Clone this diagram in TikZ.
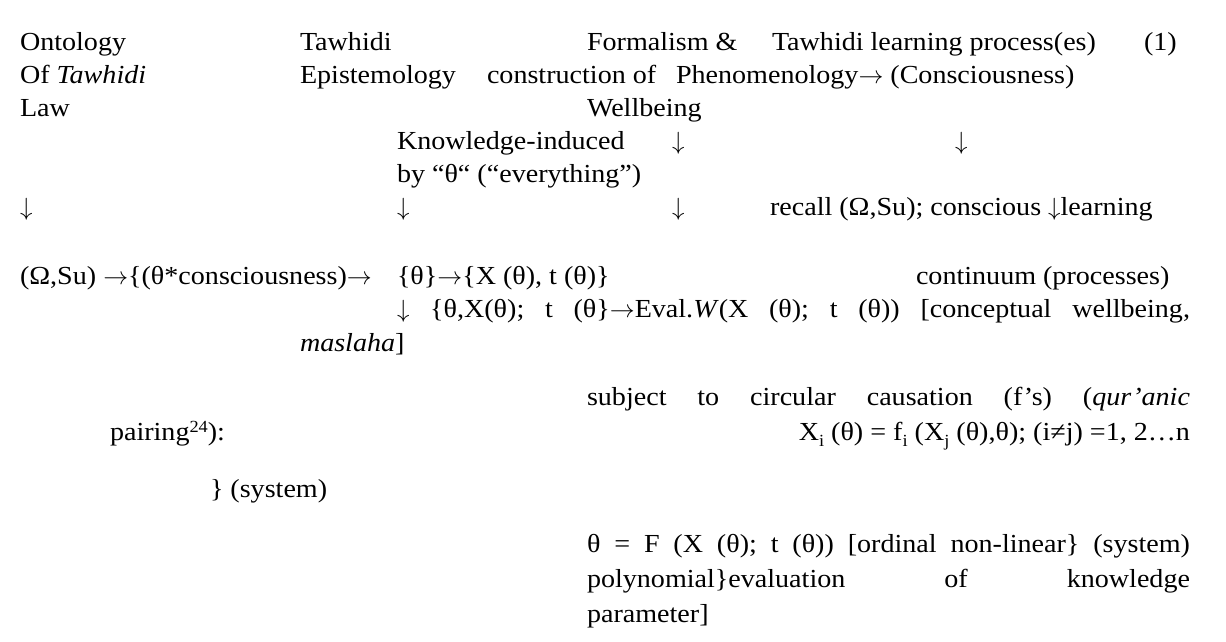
\documentclass[tikz,border=0pt]{standalone}
\usepackage{fontspec}
\setmainfont{Liberation Serif}[FakeStretch=1.08]
\frenchspacing
\tikzset{txt/.style={anchor=base west, inner sep=0pt, outer sep=0pt, font=\fontsize{26}{31}\selectfont}}
\newcommand\T[4]{\node[txt] (#1) at (#2pt,-#3pt) {#4};}
\newcommand\J[2]{\hbox to #1pt{\spaceskip=.25em plus 1fil\relax #2}}
\newcommand\sub[1]{\raisebox{-.55ex}{\fontsize{17}{17}\selectfont #1}}
\newcommand\da{\ensuremath{\downarrow}}
\newcommand\ra{\ensuremath{\rightarrow}}
\begin{document}
\begin{tikzpicture}
\useasboundingbox (0,0) rectangle (1226pt,-641pt);
% row 1
\T{a1}{20}{50}{Ontology}
\T{b1}{300}{50}{Tawhidi}
\T{c1}{587}{50}{Formalism \&}
\T{d1}{772}{50}{Tawhidi learning process(es)}
\T{e1}{1144}{50}{(1)}
% row 2
\T{a2}{20}{83}{Of \textit{Tawhidi}}
\T{b2}{300}{83}{Epistemology}
\T{c2}{487}{83}{construction of}
\T{d2}{676}{83}{Phenomenology\ra{} (Consciousness)}
% row 3
\T{a3}{20}{116}{Law}
\T{c3}{587}{116}{Wellbeing}
% row 4
\T{k1}{397}{149}{Knowledge-induced}
\T{r4a}{672}{149}{\da}
\T{r4b}{955}{149}{\da}
% row 5
\T{k2}{397}{182}{by “θ“ (“everything”)}
% row 6
\T{r6a}{20}{215}{\da}
\T{r6b}{397}{215}{\da}
\T{r6c}{672}{215}{\da}
\T{rec}{770}{215}{recall (Ω,Su); conscious \da{}learning}
% row 7
\T{om}{20}{284}{(Ω,Su) \ra\{(θ*consciousness)\ra}
\T{th}{397}{284}{\{θ\}\ra\{X (θ), t (θ)\}}
\T{cont}{916}{284}{continuum (processes)}
% row 8
\T{ev}{397}{317}{\J{793}{\da{} \{θ,X(θ); t (θ\}\ra{}Eval.\textit{W}(X (θ); t (θ)) [conceptual wellbeing,}}
% row 9
\T{mas}{300}{351}{\textit{maslaha}]}
% row 10
\T{subj}{587}{405}{\J{603}{subject to circular causation (f’s) (\textit{qur’anic}}}
% row 11
\T{pair}{110}{440}{pairing\raisebox{.6ex}{\fontsize{17}{17}\selectfont 24}):}
\node[txt, anchor=base east] (xi) at (1190pt,-440pt) {X\sub{i} (θ) = f\sub{i} (X\sub{j} (θ),θ); (i≠j) =1, 2…n};
% row 12
\T{sys}{210}{497}{\} (system)}
% row 13
\T{thf}{587}{552}{\J{603}{θ = F (X (θ); t (θ)) [ordinal non-linear\} (system)}}
% row 14
\T{poly}{587}{587}{\J{603}{polynomial\}evaluation of knowledge}}
% row 15
\T{par}{587}{622}{parameter]}
\end{tikzpicture}
\end{document}
